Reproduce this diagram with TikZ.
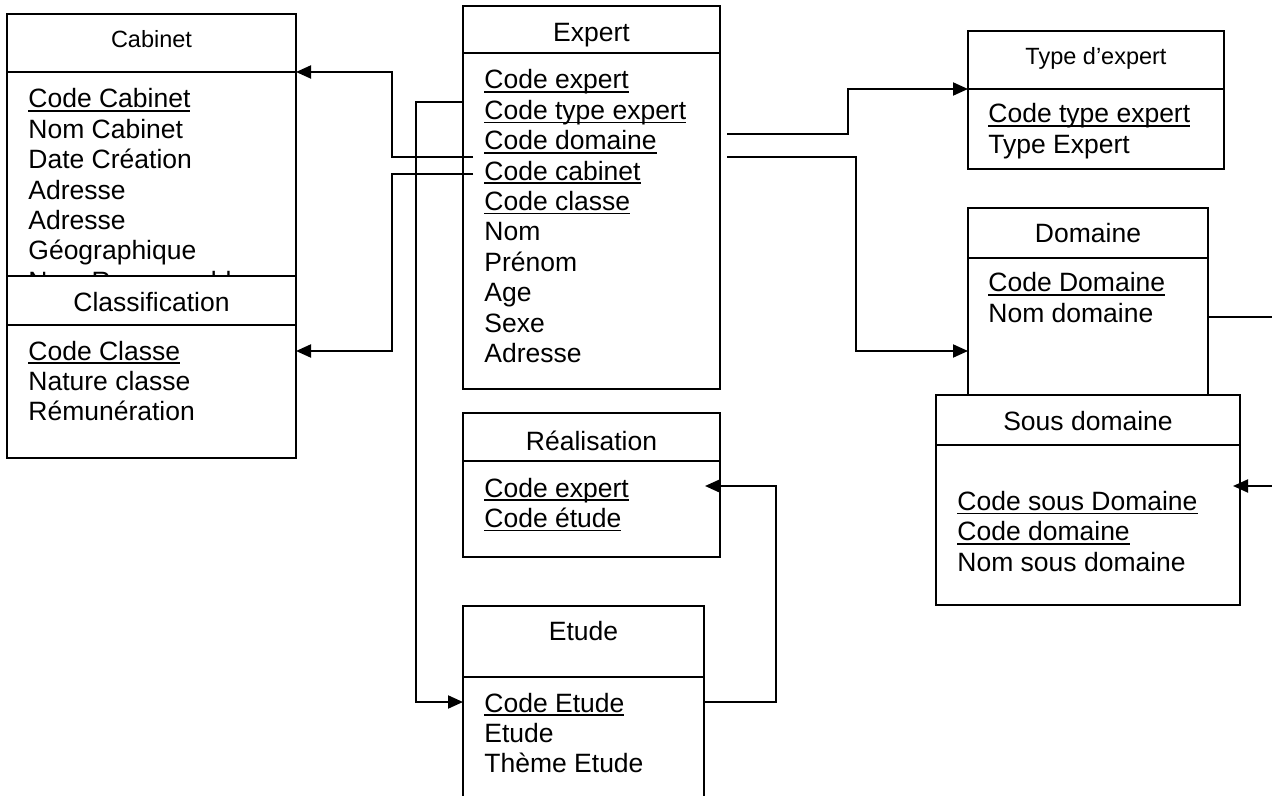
\documentclass[tikz,border=0pt]{standalone}
\usepackage{fontspec}
\setmainfont{Liberation Sans}
\usetikzlibrary{arrows.meta,fit}
\tikzset{
  >={Triangle[length=7.5pt,width=6.5pt]},
  box/.style      ={draw, line width=1pt, fill=white, inner sep=0pt, outer sep=0pt},
  head/.style     ={anchor=base, inner sep=0pt, font=\fontsize{13.25}{15.2}\selectfont},
  smallhead/.style={head, font=\fontsize{11.75}{14}\selectfont},
  attr/.style     ={anchor=base west, inner sep=0pt, font=\fontsize{13.25}{15.2}\selectfont},
  link/.style     ={line width=1pt, ->},
}
\newcommand\pk[1]{\setbox0=\hbox{#1}\rlap{\rule[-1.9pt]{\wd0}{0.75pt}}\box0}
\newcommand\fields[1]{\vtop{\halign{##\hfil\cr#1\crcr}}}

\begin{document}
\begin{tikzpicture}[x=0.5pt,y=-0.5pt]
  \useasboundingbox (0,0) rectangle (1272,796);
  \clip (0,0) rectangle (1272,796);

  % left column
  \node[box, fit={(7,14) (296,72)}] (cabH) {};
  \node[box, fit={(7,72) (296,300)}] (cabB) {};
  \node[smallhead] (cabT) at ([yshift=-17pt]cabH.north) {Cabinet};
  \node[attr] (cabF) at ([xshift=10.5pt,yshift=-18pt]cabB.north west)
    {\fields{\pk{Code Cabinet}\cr Nom Cabinet\cr Date Création\cr Adresse\cr
     Adresse\cr Géographique\cr Nom Responsable}};

  \node[box, fit={(7,276) (296,325)}] (clsH) {};
  \node[box, fit={(7,325) (296,458)}] (clsB) {};
  \node[head] (clsT) at ([yshift=-18pt]clsH.north) {Classification};
  \node[attr] (clsF) at ([xshift=10.5pt,yshift=-17.5pt]clsB.north west)
    {\fields{\pk{Code Classe}\cr Nature classe\cr Rémunération}};

  % middle column
  \node[box, fit={(463,6) (720,53)}] (expH) {};
  \node[box, fit={(463,53) (720,389)}] (expB) {};
  \node[head] (expT) at ([yshift=-18pt]expH.north) {Expert};
  \node[attr] (expF) at ([xshift=10.5pt,yshift=-18pt]expB.north west)
    {\fields{\pk{Code expert}\cr \pk{Code type expert}\cr \pk{Code domaine}\cr
     \pk{Code cabinet}\cr \pk{Code classe}\cr Nom\cr Prénom\cr Age\cr Sexe\cr Adresse}};

  \node[box, fit={(463,413) (720,461)}] (reaH) {};
  \node[box, fit={(463,461) (720,557)}] (reaB) {};
  \node[head] (reaT) at ([yshift=-18.5pt]reaH.north) {Réalisation};
  \node[attr] (reaF) at ([xshift=10.5pt,yshift=-18pt]reaB.north west)
    {\fields{\pk{Code expert}\cr \pk{Code étude}}};

  \node[box, fit={(463,606) (704,677)}] (etdH) {};
  \node[box, fit={(463,677) (704,830)}] (etdB) {};
  \node[head] (etdT) at ([yshift=-17pt]etdH.north) {Etude};
  \node[attr] (etdF) at ([xshift=10.5pt,yshift=-17.5pt]etdB.north west)
    {\fields{\pk{Code Etude}\cr Etude\cr Thème Etude}};

  % right column
  \node[box, fit={(968,31) (1224,89)}] (typH) {};
  \node[box, fit={(968,89) (1224,169)}] (typB) {};
  \node[smallhead] (typT) at ([yshift=-17pt]typH.north) {Type d’expert};
  \node[attr] (typF) at ([xshift=10pt,yshift=-17pt]typB.north west)
    {\fields{\pk{Code type expert}\cr Type Expert}};

  \node[box, fit={(968,208) (1208,258)}] (domH) {};
  \node[box, fit={(968,258) (1208,395)}] (domB) {};
  \node[head] (domT) at ([yshift=-17.5pt]domH.north) {Domaine};
  \node[attr] (domF) at ([xshift=10pt,yshift=-17pt]domB.north west)
    {\fields{\pk{Code Domaine}\cr Nom domaine}};

  \node[box, fit={(936,395) (1240,445)}] (sdH) {};
  \node[box, fit={(936,445) (1240,605)}] (sdB) {};
  \node[head] (sdT) at ([yshift=-17.5pt]sdH.north) {Sous domaine};
  \node[attr] (sdF) at ([xshift=10.5pt,yshift=-17.5pt]sdB.north west)
    {\fields{\cr \pk{Code sous Domaine}\cr \pk{Code domaine}\cr Nom sous domaine}};

  % links
  \coordinate (expToCab) at (473,157);
  \coordinate (expToCls) at (473,174);
  \coordinate (expToTyp) at (727,134);
  \coordinate (expToDom) at (727,157);
  \coordinate (domOut)   at (1272,317);
  \coordinate (sdIn)     at (1272,486);

  \draw[link] (expToCab) -- ++(-81,0) |- (cabH.south east);
  \draw[link] (expToCls) -- ++(-81,0) |- ([yshift=-13pt]clsB.north east);
  \draw[link] ([yshift=-24.5pt]expB.north west) -- ++(-47,0) |- ([yshift=-12.5pt]etdB.north west);
  \draw[link] (expToTyp) -- ++(121,0) |- (typH.south west);
  \draw[link] (expToDom) -- ++(129,0) |- ([yshift=-46.5pt]domB.north west);
  \draw[line width=1pt] ([yshift=-29.5pt]domB.north east) -- (domOut);
  \draw[link] (sdIn) -- ([xshift=-3.5pt,yshift=-20.5pt]sdB.north east);
  \draw[link] ([yshift=-12.5pt]etdB.north east) -- ++(72,0) |- ([xshift=-7.5pt,yshift=-12.5pt]reaB.north east);
\end{tikzpicture}
\end{document}
